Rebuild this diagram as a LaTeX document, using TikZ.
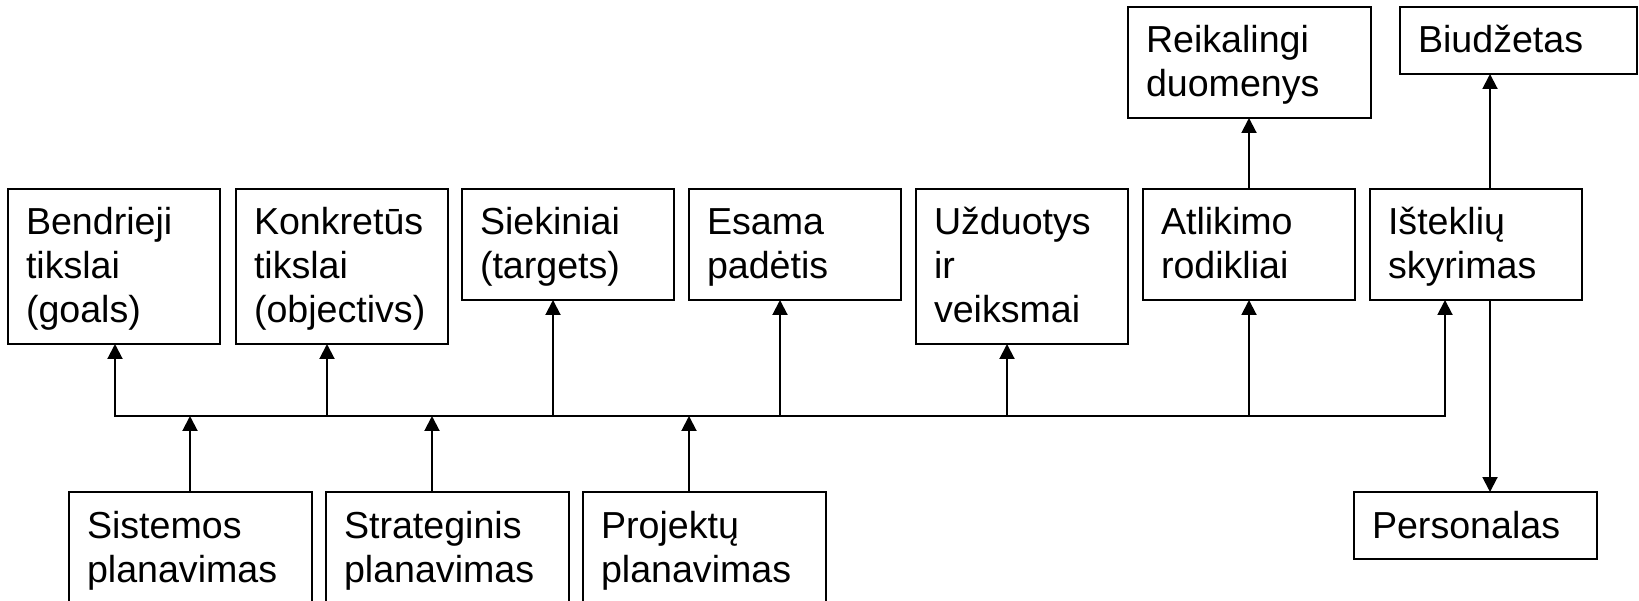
\documentclass[tikz,border=0pt]{standalone}
\usepackage{fontspec}
\setmainfont{Liberation Sans}
\usetikzlibrary{arrows.meta}
\begin{document}
\begin{tikzpicture}[x=1pt,y=-1pt,
  box/.style={draw, line width=2pt, anchor=north west, outer sep=0pt,
    inner xsep=18pt, inner ysep=0pt, align=left,
    font=\fontsize{37.6}{44}\selectfont,
    execute at begin node={\rule{0pt}{46pt}},
    execute at end node={\rule[-21pt]{0pt}{21pt}}},
  wide/.style={box, text width=176pt},
  narrow/.style={box, text width=207pt},
  conn/.style={line width=2pt},
  arr/.style={conn, -{Triangle[length=15pt,width=15pt]}}]
\useasboundingbox (0,0) rectangle (1639,601);
\clip (0,0) rectangle (1639,601);

% top row boxes
\node[wide] (bend) at (8,189) {Bendrieji\\tikslai\\(goals)};
\node[wide] (konk) at (236,189) {Konkretūs\\tikslai\\(objectivs)};
\node[wide] (siek) at (462,189) {Siekiniai\\(targets)};
\node[wide] (esam) at (689,189) {Esama\\padėtis};
\node[wide] (uzd) at (916,189) {Užduotys\\ir\\veiksmai};
\node[wide] (atl) at (1143,189) {Atlikimo\\rodikliai};
\node[wide] (ist) at (1370,189) {Išteklių\\skyrimas};

% upper boxes
\node[narrow] (reik) at (1128,7) {Reikalingi\\duomenys};
\node[box, text width=201pt] (biud) at (1400,7) {Biudžetas};

% bottom boxes
\node[narrow] (pers) at (1354,492) {Personalas};
\node[narrow] (sis) at (69,492) {Sistemos\\planavimas};
\node[narrow] (str) at (326,492) {Strateginis\\planavimas};
\node[narrow] (proj) at (583,492) {Projektų\\planavimas};

% bus coordinates
\coordinate (j1) at (115,416);
\coordinate (j2) at (327,416);
\coordinate (j3) at (553,416);
\coordinate (j4) at (780,416);
\coordinate (j5) at (1007,416);
\coordinate (j6) at (1249,416);
\coordinate (j7) at (1445,416);
\coordinate (k1) at (190,416);
\coordinate (k2) at (432,416);
\coordinate (k3) at (689,416);
\coordinate (v) at (1490,0);

\draw[conn, line cap=rect] (j1) -- (j7);

\draw[arr] (j1) -- (j1 |- bend.south);
\draw[arr] (j2) -- (j2 |- konk.south);
\draw[arr] (j3) -- (j3 |- siek.south);
\draw[arr] (j4) -- (j4 |- esam.south);
\draw[arr] (j5) -- (j5 |- uzd.south);
\draw[arr] (j6) -- (j6 |- atl.south);
\draw[arr] (j7) -- (j7 |- ist.south);

\draw[arr] (sis.north -| k1) -- (k1);
\draw[arr] (str.north -| k2) -- (k2);
\draw[arr] (proj.north -| k3) -- (k3);

\draw[arr] (atl.north -| j6) -- (reik.south -| j6);
\draw[arr] (ist.north -| v) -- (biud.south -| v);
\draw[arr] (ist.south -| v) -- (pers.north -| v);
\end{tikzpicture}
\end{document}
